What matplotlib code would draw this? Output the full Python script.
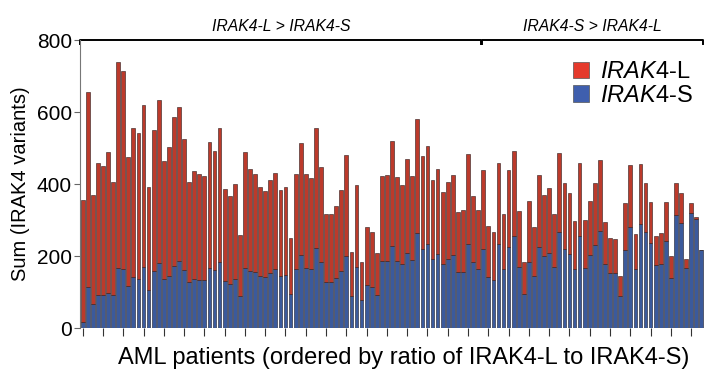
import numpy as np
import matplotlib.pyplot as plt
from matplotlib.patches import Patch

plt.rcParams['font.family'] = ['Liberation Sans', 'DejaVu Sans']
plt.rcParams['mathtext.fontset'] = 'custom'
plt.rcParams['mathtext.rm'] = 'Liberation Sans'
plt.rcParams['mathtext.it'] = 'Liberation Sans:italic'

# total per patient (IRAK4-L + IRAK4-S)
total = [357, 655, 371, 458, 451, 489, 406, 738, 715, 476, 557, 541, 619, 391, 549, 633, 463, 502, 587, 613,
         526, 406, 436, 427, 422, 518, 493, 555, 387, 368, 401, 260, 489, 442, 427, 391, 381, 412, 432, 384,
         391, 251, 429, 514, 429, 416, 557, 448, 318, 318, 339, 383, 481, 212, 398, 184, 281, 267, 209, 423,
         424, 519, 419, 398, 469, 422, 581, 479, 507, 411, 443, 378, 407, 426, 322, 327, 483, 368, 329, 439,
         283, 266, 459, 316, 439, 493, 326, 185, 352, 282, 424, 369, 390, 318, 486, 404, 375, 297, 460, 299,
         353, 403, 468, 295, 251, 247, 146, 348, 452, 261, 457, 403, 351, 255, 264, 351, 200, 402, 375, 192,
         348, 308, 218]
# IRAK4-S part
short = [18, 115, 68, 91, 91, 98, 91, 166, 163, 117, 141, 137, 169, 106, 158, 182, 136, 144, 173, 187,
         161, 127, 136, 134, 134, 166, 161, 185, 130, 123, 136, 88, 168, 160, 157, 144, 141, 154, 164, 144,
         148, 96, 165, 202, 168, 164, 222, 184, 129, 129, 140, 159, 200, 88, 170, 78, 121, 115, 91, 187,
         187, 229, 186, 177, 210, 188, 263, 220, 235, 193, 207, 177, 191, 203, 156, 157, 233, 183, 164, 219,
         143, 134, 234, 164, 225, 256, 170, 96, 185, 146, 225, 199, 208, 170, 267, 220, 205, 165, 256, 167,
         202, 231, 271, 177, 153, 152, 90, 218, 282, 165, 289, 267, 236, 175, 179, 243, 138, 314, 293, 166,
         320, 302, 218]

long_ = [t - s for t, s in zip(total, short)]
x = np.arange(len(total))

fig = plt.figure(figsize=(7.05, 3.75), dpi=100)
ax = fig.add_axes([0.114, 0.125, 0.884, 0.768])

red = '#BC3A2B'
blue = '#3B5A9C'
ax.bar(x, short, width=0.74, color=blue, edgecolor='#1c1c2a', linewidth=0.4)
ax.bar(x, long_, bottom=short, width=0.74, color=red, edgecolor='#2a1a1a', linewidth=0.4)

ax.set_xlim(-0.45, len(total) - 0.55)
ax.set_ylim(0, 800)
ax.set_yticks([0, 200, 400, 600, 800])
ax.set_xticks(x[::4])
ax.set_xticklabels([])
ax.tick_params(axis='y', direction='out', length=4, labelsize=15, color='#666666', pad=2)
ax.tick_params(axis='x', direction='out', length=6, color='#333333', pad=2)
for s in ['top', 'right', 'bottom']:
    ax.spines[s].set_visible(False)
ax.spines['left'].set_color('#777777')

ax.set_ylabel('Sum (IRAK4 variants)', fontsize=14.5, labelpad=5)
ax.set_xlabel('AML patients (ordered by ratio of IRAK4-L to IRAK4-S)', fontsize=17)
ax.xaxis.set_label_coords(0.518, -0.065)

# brackets on top
split = 78.7
yb = 800
for x0, x1, label in [(-0.45, split - 0.1, 'IRAK4-L > IRAK4-S'),
                      (split + 0.1, len(total) - 0.6, 'IRAK4-S > IRAK4-L')]:
    ax.plot([x0, x0, x1, x1], [yb - 12, yb, yb, yb - 12], color='black', lw=1.4, clip_on=False)
    ax.text((x0 + x1) / 2, yb + 16, label, ha='center', va='bottom', fontsize=11.3, style='italic')

handles = [Patch(facecolor='#E53A2C', edgecolor='#555555', lw=0.5),
           Patch(facecolor='#3F5FAE', edgecolor='#555555', lw=0.5)]
ax.legend(handles, [r'$\it{IRAK4}$-L', r'$\it{IRAK4}$-S'], loc='upper right', bbox_to_anchor=(1.017, 1.0),
          frameon=False, fontsize=17, handlelength=0.7, handleheight=0.7, handletextpad=0.45,
          labelspacing=0.05)

fig.savefig('out.png', dpi=100)
